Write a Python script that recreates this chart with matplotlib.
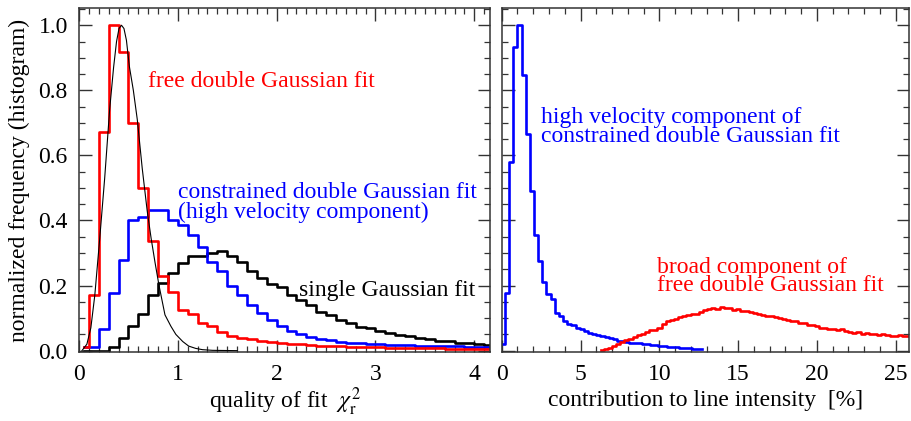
import numpy as np
import matplotlib
matplotlib.use("Agg")
import matplotlib.pyplot as plt

plt.rcParams['font.family'] = ['Liberation Serif', 'DejaVu Serif']
plt.rcParams['mathtext.fontset'] = 'stix'

# ---------------- data: left panel (reduced chi^2 histograms, bin width 0.1) ----------------
chi_bin_start = 0.05
chi_bin_width = 0.1
free_double = [0.01, 0.172, 0.672, 1.0, 0.917, 0.70, 0.50, 0.336, 0.23, 0.18,
               0.126, 0.113, 0.085, 0.075, 0.058, 0.045, 0.040, 0.035, 0.030, 0.027,
               0.022, 0.020, 0.020, 0.018, 0.015, 0.014, 0.013, 0.012, 0.011, 0.010,
               0.010, 0.009, 0.009, 0.008, 0.008, 0.007, 0.007, 0.006, 0.006, 0.006,
               0.005, 0.005]
constrained_hv = [0.01, 0.01, 0.068, 0.177, 0.28, 0.40, 0.41, 0.433, 0.433, 0.40,
                  0.385, 0.355, 0.32, 0.273, 0.245, 0.20, 0.17, 0.14, 0.115, 0.095,
                  0.075, 0.060, 0.050, 0.042, 0.037, 0.032, 0.028, 0.025, 0.022, 0.020,
                  0.019, 0.018, 0.017, 0.016, 0.015, 0.014, 0.014, 0.013, 0.013, 0.012,
                  0.012, 0.011]
single_gauss = [0.0, 0.0, 0.0, 0.01, 0.04, 0.075, 0.113, 0.172, 0.207, 0.238,
                0.268, 0.29, 0.29, 0.30, 0.307, 0.29, 0.273, 0.245, 0.222, 0.204,
                0.197, 0.172, 0.156, 0.141, 0.12, 0.109, 0.095, 0.085, 0.072, 0.070,
                0.060, 0.055, 0.047, 0.045, 0.038, 0.036, 0.030, 0.029, 0.025, 0.023,
                0.019, 0.017]
# thin reference curve
curve_x = [0.03, 0.08, 0.12, 0.16, 0.21, 0.26, 0.31, 0.35, 0.38, 0.405, 0.43,
           0.455, 0.48, 0.51, 0.55, 0.59, 0.64, 0.69, 0.73, 0.77, 0.81, 0.87,
           0.93, 0.98, 1.05, 1.11, 1.18, 1.25, 1.35, 1.6]
curve_y = [0.0, 0.02, 0.07, 0.17, 0.345, 0.53, 0.74, 0.87, 0.95, 0.99, 1.0,
           0.99, 0.954, 0.873, 0.80, 0.71, 0.56, 0.43, 0.345, 0.27, 0.20, 0.11,
           0.075, 0.05, 0.028, 0.014, 0.007, 0.003, 0.001, 0.0]

# ---------------- data: right panel (contribution to line intensity [%]) ----------------
hv_bin_start = 0.08
hv_bin_width = 0.263
hv_component = [0.02, 0.177, 0.58, 0.934, 1.0, 0.848, 0.665, 0.49, 0.355, 0.277,
                0.21, 0.173, 0.16, 0.117, 0.106, 0.091, 0.082, 0.080, 0.070, 0.067,
                0.060, 0.055, 0.050, 0.048, 0.045, 0.042, 0.038, 0.036, 0.031, 0.029,
                0.026, 0.024, 0.023, 0.022, 0.021, 0.019, 0.017, 0.016, 0.015, 0.013,
                0.012, 0.011, 0.010, 0.009, 0.008, 0.007, 0.006, 0.005, 0.004]
broad_bin_start = 6.33
broad_bin_width = 0.263
broad_component = [0.002, 0.004, 0.008, 0.014, 0.020, 0.027, 0.032, 0.036, 0.042, 0.047,
                   0.050, 0.056, 0.062, 0.064, 0.070, 0.082, 0.090, 0.094, 0.098, 0.104,
                   0.106, 0.110, 0.114, 0.112, 0.120, 0.124, 0.128, 0.132, 0.128, 0.133,
                   0.130, 0.132, 0.126, 0.128, 0.122, 0.123, 0.118, 0.116, 0.112, 0.110,
                   0.106, 0.108, 0.102, 0.100, 0.098, 0.095, 0.092, 0.090, 0.086, 0.084,
                   0.080, 0.078, 0.075, 0.071, 0.070, 0.066, 0.068, 0.063, 0.066, 0.060,
                   0.058, 0.054, 0.056, 0.052, 0.053, 0.050, 0.052, 0.049, 0.052, 0.048,
                   0.046, 0.044, 0.047, 0.045, 0.046]

RED = '#ff0000'
BLUE = '#0000ff'
FS = 17

fig = plt.figure(figsize=(9.11, 4.21), dpi=100)
axL = fig.add_axes([0.0867, 0.164, 0.4513, 0.817])
axR = fig.add_axes([0.5507, 0.164, 0.4473, 0.817])


def centers(start, width, n):
    return start + width * np.arange(n)


def style(ax):
    for s in ax.spines.values():
        s.set_linewidth(1.1)
        s.set_color('#333333')
    ax.tick_params(which='both', direction='in', top=True, right=True,
                   labelsize=FS, color='#333333')
    ax.tick_params(which='major', length=9, width=1.0, pad=8)
    ax.tick_params(which='minor', length=4.5, width=0.9)
    ax.tick_params(axis='x', which='major', pad=9)


lw = 1.9
xc = centers(chi_bin_start, chi_bin_width, len(single_gauss))
axL.step(xc, single_gauss, where='mid', color='black', lw=lw)
axL.step(xc, constrained_hv, where='mid', color=BLUE, lw=lw)
axL.step(xc, free_double, where='mid', color=RED, lw=lw)
axL.plot(curve_x, curve_y, color='black', lw=0.8)

axL.set_xlim(0, 4.16)
axL.set_ylim(-0.004, 1.053)
axL.set_xticks([0, 1, 2, 3, 4])
axL.set_xticks(np.arange(0, 4.16, 0.1), minor=True)
axL.set_yticks([0.0, 0.2, 0.4, 0.6, 0.8, 1.0])
axL.set_yticklabels(['0.0', '0.2', '0.4', '0.6', '0.8', '1.0'])
axL.set_yticks(np.arange(0, 1.051, 0.05), minor=True)
style(axL)
axL.set_xlabel(r'quality of fit  $\chi^2_{\rm r}$', fontsize=FS, labelpad=0)
axL.set_ylabel('normalized frequency (histogram)', fontsize=FS, labelpad=6)

axL.text(0.70, 0.826, 'free double Gaussian fit', color=RED, fontsize=FS,
         va='center', ha='left')
axL.text(1.0, 0.456, 'constrained double Gaussian fit\n(high velocity component)',
         color=BLUE, fontsize=FS, va='center', ha='left', linespacing=0.9)
axL.text(2.23, 0.186, 'single Gaussian fit', color='black', fontsize=FS,
         va='center', ha='left')

xh = centers(hv_bin_start, hv_bin_width, len(hv_component))
xb = centers(broad_bin_start, broad_bin_width, len(broad_component))
axR.step(xh, hv_component, where='mid', color=BLUE, lw=lw)
axR.step(xb, broad_component, where='mid', color=RED, lw=lw)

axR.set_xlim(0, 25.85)
axR.set_ylim(-0.004, 1.053)
axR.set_xticks([0, 5, 10, 15, 20, 25])
axR.set_xticks(np.arange(0, 25.9, 1), minor=True)
axR.set_yticks([0.0, 0.2, 0.4, 0.6, 0.8, 1.0])
axR.set_yticks(np.arange(0, 1.051, 0.05), minor=True)
axR.set_yticklabels([])
style(axR)
axR.set_xlabel('contribution to line intensity  [%]', fontsize=FS, labelpad=3)

axR.text(2.48, 0.688, 'high velocity component of\nconstrained double Gaussian fit',
         color=BLUE, fontsize=FS, va='center', ha='left', linespacing=0.86)
axR.text(9.87, 0.228, 'broad component of\nfree double Gaussian fit',
         color=RED, fontsize=FS, va='center', ha='left', linespacing=0.82)

fig.savefig('out.png', dpi=100)
